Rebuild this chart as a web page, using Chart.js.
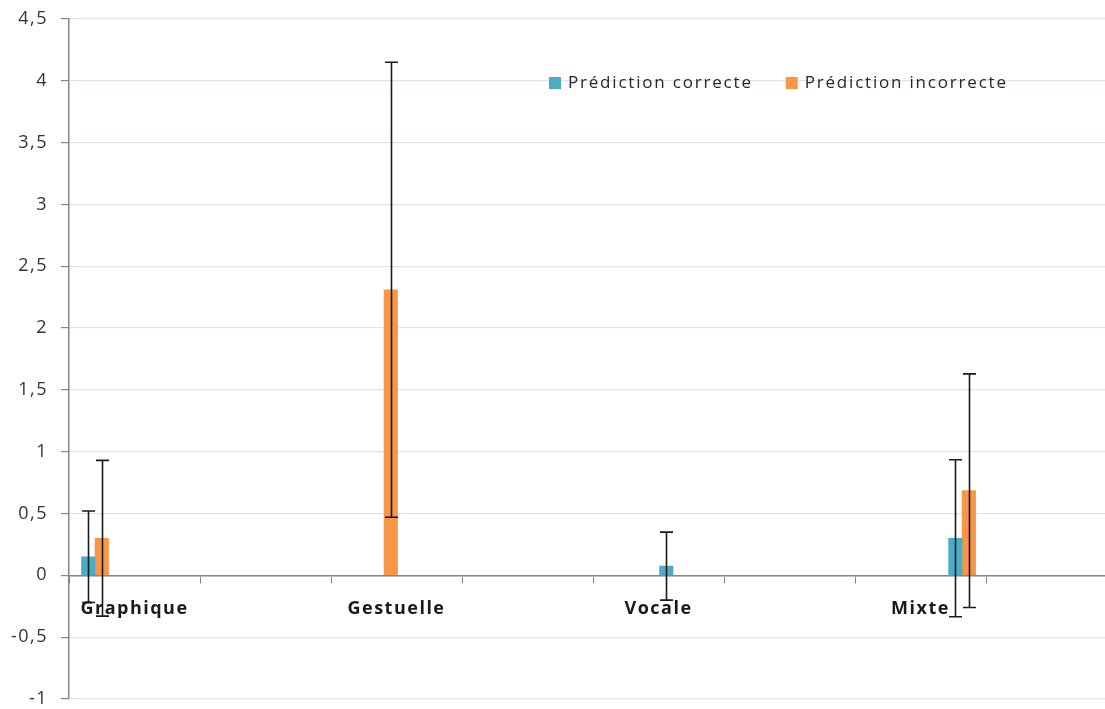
<!DOCTYPE html>
<html>
<head>
<meta charset="utf-8">
<script src="https://cdn.jsdelivr.net/npm/chart.js@4/dist/chart.umd.min.js"></script>
<style>
  html, body { margin: 0; padding: 0; background: #fff; overflow: hidden; }
  #wrap { width: 1117px; height: 709px; }
</style>
</head>
<body>
<div id="wrap"><canvas id="chart" width="1117" height="709"></canvas></div>
<script>
const categories = ['Graphique', 'Gestuelle', 'Vocale', 'Mixte'];
// axe des catégories : une case vide entre chaque modalité
const axisLabels = categories.flatMap(c => [c, '']);

const correcte = [0.15, null, 0.075, 0.30];
const correcteErr = [0.37, null, 0.275, 0.635];
const incorrecte = [0.30, 2.31, null, 0.685];
const incorrecteErr = [0.63, 1.84, null, 0.945];

const yTicks = { min: -1, max: 4.5, step: 0.5 };

const bleu = '#4BACC6';
const orange = '#F79646';

const toPoints = arr => arr.map((v, i) => ({ x: i, y: v }));

// espacement des lettres un peu large, comme sur l'original
const espacement = {
    id: 'espacement',
    beforeDraw(chart) {
        chart.ctx.letterSpacing = '1.5px';
    }
};

// barres d'erreur (pas natif dans Chart.js)
const errorBars = {
    id: 'errorBars',
    afterDatasetsDraw(chart) {
        const ctx = chart.ctx;
        const y = chart.scales.y;
        ctx.save();
        ctx.strokeStyle = '#1a1a1a';
        ctx.lineWidth = 1.6;
        chart.data.datasets.forEach((ds, di) => {
            const meta = chart.getDatasetMeta(di);
            meta.data.forEach((bar, i) => {
                const v = ds.data[i].y;
                const e = ds.errors[i];
                if (v == null || e == null) return;
                const x = Math.round(bar.x) + 0.5;
                const top = y.getPixelForValue(v + e);
                const bot = y.getPixelForValue(v - e);
                ctx.beginPath();
                ctx.moveTo(x, top); ctx.lineTo(x, bot);
                ctx.moveTo(x - 6.5, top); ctx.lineTo(x + 6.5, top);
                ctx.moveTo(x - 6.5, bot); ctx.lineTo(x + 6.5, bot);
                ctx.stroke();
            });
        });
        ctx.restore();
    }
};

// légende posée dans la zone du graphique
const legendeInterne = {
    id: 'legendeInterne',
    afterDraw(chart) {
        const ctx = chart.ctx;
        ctx.save();
        ctx.font = '17px "Open Sans"';
        ctx.letterSpacing = '1.8px';
        ctx.textBaseline = 'middle';
        let x = 549;
        const yc = 83;
        chart.data.datasets.forEach(ds => {
            ctx.fillStyle = ds.backgroundColor;
            ctx.fillRect(x, yc - 6, 12, 12);
            ctx.fillStyle = '#262626';
            ctx.fillText(ds.label, x + 19, yc);
            x += 19 + ctx.measureText(ds.label).width + 33;
        });
        ctx.restore();
    }
};

new Chart(document.getElementById('chart').getContext('2d'), {
    type: 'bar',
    data: {
        labels: axisLabels,
        datasets: [
            {
                label: 'Prédiction correcte',
                data: toPoints(correcte),
                errors: correcteErr,
                backgroundColor: bleu,
                xAxisID: 'x2'
            },
            {
                label: 'Prédiction incorrecte',
                data: toPoints(incorrecte),
                errors: incorrecteErr,
                backgroundColor: orange,
                xAxisID: 'x2'
            }
        ]
    },
    options: {
        responsive: false,
        animation: false,
        barThickness: 13.5,
        layout: { padding: { top: 19, bottom: 10, left: 0, right: 0 } },
        plugins: {
            legend: { display: false },
            tooltip: { enabled: false }
        },
        scales: {
            x2: {
                type: 'linear',
                display: false,
                offset: false,
                bounds: 'data',
                min: -0.09,
                max: 3.536
            },
            x: {
                type: 'category',
                position: { y: 0 },
                offset: true,
                border: { color: '#868686', width: 1.5 },
                grid: {
                    offset: true,
                    drawOnChartArea: false,
                    drawTicks: true,
                    tickLength: 7,
                    tickColor: '#868686'
                },
                ticks: {
                    autoSkip: false,
                    maxRotation: 0,
                    padding: 16,
                    color: '#1a1a1a',
                    font: { family: '"Open Sans"', size: 18, weight: 'bold' }
                }
            },
            y: {
                min: yTicks.min,
                max: yTicks.max,
                border: { color: '#868686', width: 1.5 },
                grid: {
                    color: '#dce4f0',
                    lineWidth: 1.2,
                    tickLength: 8,
                    tickColor: '#868686'
                },
                ticks: {
                    stepSize: yTicks.step,
                    padding: 13,
                    color: '#333333',
                    font: { family: '"Open Sans"', size: 18 },
                    callback: v => String(v).replace('.', ',')
                },
                afterFit: scale => {
                    scale.width = 69;
                    scale.paddingTop = 0;
                    scale.paddingBottom = 0;
                }
            }
        }
    },
    plugins: [espacement, errorBars, legendeInterne]
});
</script>
</body>
</html>
